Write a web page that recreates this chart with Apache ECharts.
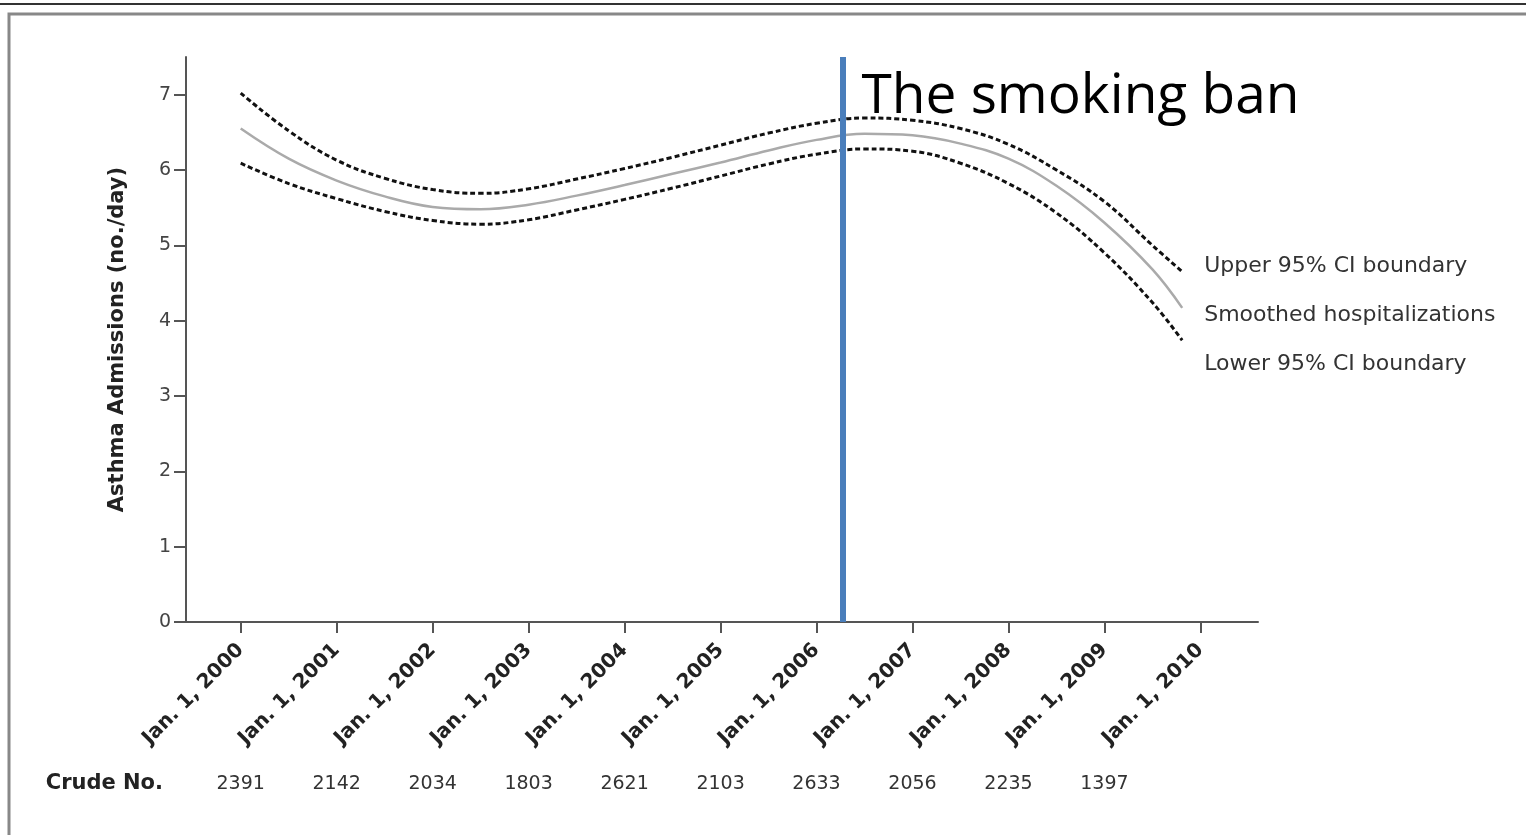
<!DOCTYPE html>
<html>
<head>
<meta charset="utf-8">
<script src="https://cdn.jsdelivr.net/npm/echarts@6/dist/echarts.min.js"></script>
<style>
html,body{margin:0;padding:0;background:#fff;}
#chart{width:1526px;height:835px;}
</style>
</head>
<body>
<div id="chart"></div>
<script>
// Time in decimal years
const years = [2000, 2000.5, 2001, 2001.5, 2002, 2002.5, 2003, 2003.5, 2004, 2004.5, 2005, 2005.5, 2006, 2006.5, 2007, 2007.5, 2008, 2008.5, 2009, 2009.5, 2009.81];
const smoothed = [6.55, 6.15, 5.86, 5.65, 5.51, 5.48, 5.54, 5.66, 5.80, 5.95, 6.10, 6.26, 6.40, 6.48, 6.46, 6.35, 6.15, 5.79, 5.30, 4.68, 4.17];
const upper    = [7.02, 6.52, 6.13, 5.89, 5.74, 5.69, 5.75, 5.88, 6.02, 6.17, 6.33, 6.49, 6.62, 6.69, 6.66, 6.55, 6.34, 6.00, 5.58, 5.00, 4.65];
const lower    = [6.09, 5.82, 5.62, 5.45, 5.33, 5.28, 5.34, 5.47, 5.61, 5.76, 5.92, 6.08, 6.21, 6.28, 6.25, 6.09, 5.82, 5.43, 4.90, 4.24, 3.74];
const tickYears = [2000, 2001, 2002, 2003, 2004, 2005, 2006, 2007, 2008, 2009, 2010];
const crudeYears = [2000, 2001, 2002, 2003, 2004, 2005, 2006, 2007, 2008, 2009];
const crudeNo = [2391, 2142, 2034, 1803, 2621, 2103, 2633, 2056, 2235, 1397];
const yTicks = [0, 1, 2, 3, 4, 5, 6, 7];
const banYear = 2006.27;
const seriesNames = ['Upper 95% CI boundary', 'Smoothed hospitalizations', 'Lower 95% CI boundary'];

const pair = arr => years.map((x, i) => [x, arr[i]]);
const font = 'DejaVu Sans';

const chart = echarts.init(document.getElementById('chart'));
const dotted = {color: '#111', width: 3, type: [5, 3]};
const endLbl = (name, off) => ({
  show: true, formatter: name, offset: off, distance: 0,
  color: '#333', fontFamily: font, fontSize: 22, align: 'left', verticalAlign: 'middle'
});

chart.setOption({
  animation: false,
  backgroundColor: '#fff',
  grid: {left: 186, right: 268, top: 57, bottom: 213, containLabel: false},
  xAxis: [{
    type: 'value', min: 1999.43, max: 2010.6,
    axisLine: {show: true, lineStyle: {color: '#555', width: 2}},
    axisTick: {show: true, length: 11, lineStyle: {color: '#555', width: 2}, customValues: tickYears},
    splitLine: {show: false},
    axisLabel: {
      customValues: tickYears, rotate: 45, margin: 25,
      formatter: v => 'Jan. 1, ' + Math.round(v),
      color: '#222', fontFamily: font, fontSize: 20, fontWeight: 'bold'
    }
  }, {
    type: 'value', min: 1999.43, max: 2010.6, position: 'bottom', offset: 162,
    axisLine: {show: false}, axisTick: {show: false}, splitLine: {show: false},
    name: 'Crude No.', nameLocation: 'start', nameGap: 23,
    nameTextStyle: {color: '#222', fontFamily: font, fontSize: 21, fontWeight: 'bold', align: 'right', verticalAlign: 'middle'},
    axisLabel: {
      customValues: crudeYears, margin: 0, verticalAlign: 'middle',
      formatter: v => { const i = crudeYears.indexOf(Math.round(v)); return i >= 0 ? String(crudeNo[i]) : ''; },
      color: '#333', fontFamily: font, fontSize: 19
    }
  }],
  yAxis: {
    type: 'value', min: 0, max: 7.5,
    name: 'Asthma Admissions (no./day)', nameLocation: 'middle', nameGap: 58,
    nameTextStyle: {color: '#222', fontFamily: font, fontSize: 21, fontWeight: 'bold'},
    axisLine: {show: true, lineStyle: {color: '#555', width: 2}},
    axisTick: {show: true, length: 12, lineStyle: {color: '#555', width: 2}, customValues: yTicks},
    splitLine: {show: false},
    axisLabel: {customValues: yTicks, margin: 15, color: '#444', fontFamily: font, fontSize: 19}
  },
  series: [
    {name: seriesNames[0], type: 'line', data: pair(upper), smooth: 0.4, symbol: 'none',
     lineStyle: dotted, endLabel: endLbl(seriesNames[0], [22, -5]), z: 3},
    {name: seriesNames[1], type: 'line', data: pair(smoothed), smooth: 0.4, symbol: 'none',
     lineStyle: {color: '#aaa', width: 2.5}, endLabel: endLbl(seriesNames[1], [22, 7]), z: 2,
     markLine: {silent: true, symbol: 'none', label: {show: false},
       lineStyle: {color: '#4a7ebb', width: 6, type: 'solid'},
       data: [{xAxis: banYear}], z: 5}},
    {name: seriesNames[2], type: 'line', data: pair(lower), smooth: 0.4, symbol: 'none',
     lineStyle: dotted, endLabel: endLbl(seriesNames[2], [22, 24]), z: 3}
  ]
});

const banX = chart.convertToPixel({xAxisIndex: 0}, banYear);
const topY = chart.convertToPixel({yAxisIndex: 0}, 7);
chart.setOption({
  graphic: [
    {type: 'line', shape: {x1: 0, y1: 4, x2: 1526, y2: 4}, style: {stroke: '#333', lineWidth: 2}, silent: true},
    {type: 'polyline', shape: {points: [[9, 835], [9, 14], [1526, 14]]}, style: {stroke: '#888', lineWidth: 3, fill: null}, silent: true},
    {type: 'text', x: banX + 19, y: topY + 3, silent: true,
     style: {text: 'The smoking ban', fill: '#000', font: '55px "Open Sans"', verticalAlign: 'middle', align: 'left'}}
  ]
});
</script>
</body>
</html>
